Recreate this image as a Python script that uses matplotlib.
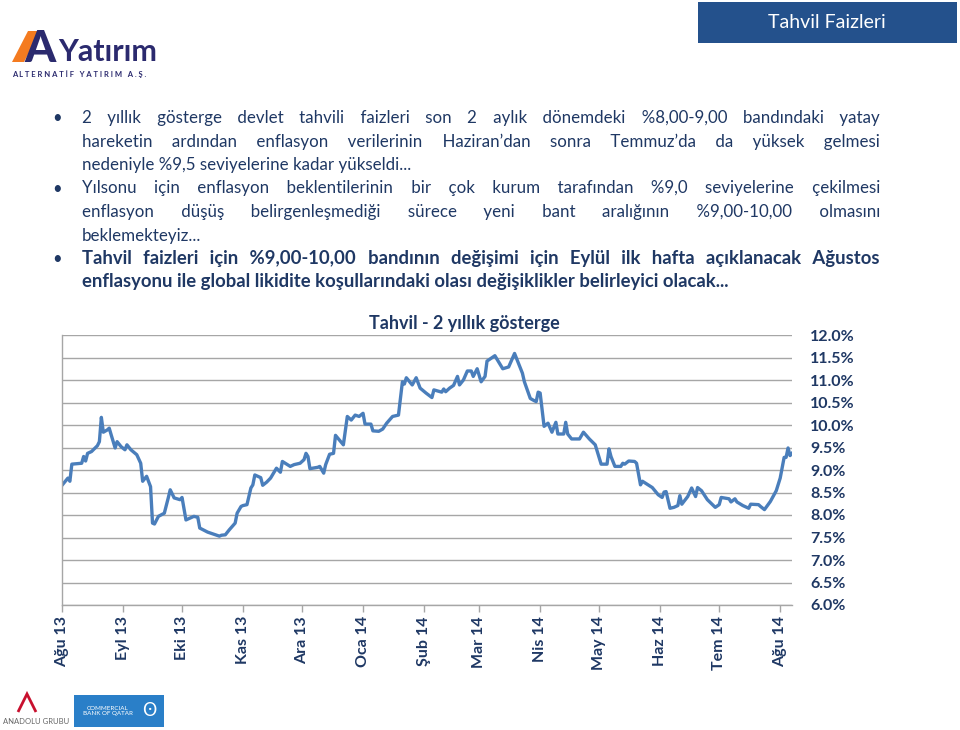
import matplotlib
matplotlib.use("Agg")
import matplotlib.pyplot as plt
import matplotlib.patches as mpatches
import pandas as pd

# 2-year benchmark bond yield (%)
dates = [
    "2013-08-01", "2013-08-04", "2013-08-05", "2013-08-06", "2013-08-11", "2013-08-12",
    "2013-08-13", "2013-08-14", "2013-08-16", "2013-08-19", "2013-08-20", "2013-08-21",
    "2013-08-22", "2013-08-24", "2013-08-25", "2013-08-26", "2013-08-28", "2013-08-29",
    "2013-08-31", "2013-09-02", "2013-09-03", "2013-09-05", "2013-09-08", "2013-09-10",
    "2013-09-11", "2013-09-13", "2013-09-15", "2013-09-16", "2013-09-17", "2013-09-19",
    "2013-09-22", "2013-09-24", "2013-09-25", "2013-09-27", "2013-09-30", "2013-10-01",
    "2013-10-03", "2013-10-07", "2013-10-09", "2013-10-10", "2013-10-14", "2013-10-20",
    "2013-10-21", "2013-10-23", "2013-10-25", "2013-10-28", "2013-10-29", "2013-10-31",
    "2013-11-01", "2013-11-03", "2013-11-05", "2013-11-06", "2013-11-07", "2013-11-10",
    "2013-11-11", "2013-11-13", "2013-11-15", "2013-11-18", "2013-11-20", "2013-11-21",
    "2013-11-25", "2013-11-27", "2013-11-30", "2013-12-02", "2013-12-03", "2013-12-04",
    "2013-12-05", "2013-12-09", "2013-12-10", "2013-12-12", "2013-12-13", "2013-12-15",
    "2013-12-17", "2013-12-18", "2013-12-22", "2013-12-24", "2013-12-26", "2013-12-28",
    "2013-12-30", "2014-01-01", "2014-01-02", "2014-01-05", "2014-01-06", "2014-01-09",
    "2014-01-11", "2014-01-13", "2014-01-16", "2014-01-19", "2014-01-21", "2014-01-22",
    "2014-01-23", "2014-01-26", "2014-01-28", "2014-01-30", "2014-02-02", "2014-02-05",
    "2014-02-06", "2014-02-10", "2014-02-11", "2014-02-12", "2014-02-14", "2014-02-16",
    "2014-02-18", "2014-02-19", "2014-02-21", "2014-02-23", "2014-02-25", "2014-02-26",
    "2014-02-28", "2014-03-02", "2014-03-04", "2014-03-05", "2014-03-09", "2014-03-13",
    "2014-03-16", "2014-03-19", "2014-03-23", "2014-03-24", "2014-03-27", "2014-03-29",
    "2014-03-30", "2014-03-31", "2014-04-01", "2014-04-03", "2014-04-05", "2014-04-07",
    "2014-04-09", "2014-04-10", "2014-04-13", "2014-04-14", "2014-04-15", "2014-04-17",
    "2014-04-21", "2014-04-23", "2014-04-26", "2014-04-29", "2014-05-02", "2014-05-05",
    "2014-05-06", "2014-05-07", "2014-05-09", "2014-05-12", "2014-05-13", "2014-05-14",
    "2014-05-16", "2014-05-19", "2014-05-20", "2014-05-22", "2014-05-23", "2014-05-28",
    "2014-05-31", "2014-06-02", "2014-06-03", "2014-06-04", "2014-06-06", "2014-06-08",
    "2014-06-10", "2014-06-11", "2014-06-12", "2014-06-15", "2014-06-17", "2014-06-19",
    "2014-06-20", "2014-06-22", "2014-06-25", "2014-06-29", "2014-07-01", "2014-07-02",
    "2014-07-06", "2014-07-07", "2014-07-09", "2014-07-10", "2014-07-13", "2014-07-16",
    "2014-07-17", "2014-07-21", "2014-07-22", "2014-07-24", "2014-07-27", "2014-07-30",
    "2014-08-01", "2014-08-03", "2014-08-04", "2014-08-05", "2014-08-06", "2014-08-07",
]
yields = [
    8.66, 8.82, 8.75, 9.13, 9.15, 9.30,
    9.20, 9.37, 9.41, 9.54, 9.63, 10.17,
    9.84, 9.89, 9.93, 9.78, 9.49, 9.63,
    9.52, 9.45, 9.56, 9.45, 9.34, 9.15,
    8.75, 8.86, 8.63, 7.82, 7.80, 7.97,
    8.04, 8.38, 8.56, 8.38, 8.34, 8.39,
    7.89, 7.97, 7.95, 7.71, 7.62, 7.53,
    7.55, 7.56, 7.67, 7.82, 8.04, 8.19,
    8.21, 8.23, 8.60, 8.67, 8.89, 8.83,
    8.66, 8.73, 8.82, 9.04, 8.95, 9.19,
    9.08, 9.12, 9.15, 9.23, 9.37, 9.30,
    9.03, 9.06, 9.08, 8.93, 9.12, 9.35,
    9.37, 9.77, 9.56, 10.19, 10.11, 10.22,
    10.19, 10.26, 10.02, 10.02, 9.87, 9.86,
    9.91, 10.04, 10.19, 10.22, 10.96, 10.91,
    11.05, 10.89, 11.05, 10.82, 10.71, 10.61,
    10.78, 10.73, 10.80, 10.74, 10.82, 10.88,
    11.08, 10.89, 11.00, 11.20, 11.20, 11.08,
    11.25, 10.96, 11.08, 11.42, 11.54, 11.25,
    11.29, 11.59, 11.15, 10.96, 10.59, 10.54,
    10.52, 10.73, 10.71, 9.97, 10.04, 9.84,
    10.06, 9.80, 9.80, 10.06, 9.80, 9.69,
    9.69, 9.84, 9.69, 9.56, 9.13, 9.13,
    9.47, 9.30, 9.08, 9.08, 9.15, 9.13,
    9.20, 9.19, 9.15, 8.67, 8.75, 8.61,
    8.45, 8.39, 8.51, 8.52, 8.15, 8.17,
    8.21, 8.43, 8.24, 8.41, 8.60, 8.41,
    8.61, 8.54, 8.34, 8.17, 8.23, 8.39,
    8.36, 8.29, 8.36, 8.29, 8.21, 8.15,
    8.24, 8.23, 8.19, 8.12, 8.30, 8.54,
    8.82, 9.28, 9.28, 9.49, 9.32, 9.37,
]

month_ticks = ["2013-08-01", "2013-09-01", "2013-10-01", "2013-11-01", "2013-12-01",
               "2014-01-01", "2014-02-01", "2014-03-01", "2014-04-01", "2014-05-01",
               "2014-06-01", "2014-07-01", "2014-08-01"]
month_labels = ["Ağu 13", "Eyl 13", "Eki 13", "Kas 13", "Ara 13", "Oca 14", "Şub 14",
                "Mar 14", "Nis 14", "May 14", "Haz 14", "Tem 14", "Ağu 14"]
y_ticks = [6.0, 6.5, 7.0, 7.5, 8.0, 8.5, 9.0, 9.5, 10.0, 10.5, 11.0, 11.5, 12.0]

bullets = [
    ["2 yıllık gösterge devlet tahvili faizleri son 2 aylık dönemdeki %8,00-9,00 bandındaki yatay",
     "hareketin ardından enflasyon verilerinin Haziran’dan sonra Temmuz’da da yüksek gelmesi",
     "nedeniyle %9,5 seviyelerine kadar yükseldi..."],
    ["Yılsonu için enflasyon beklentilerinin bir çok kurum tarafından %9,0 seviyelerine çekilmesi",
     "enflasyon düşüş belirgenleşmediği sürece yeni bant aralığının %9,00-10,00 olmasını",
     "beklemekteyiz..."],
    ["Tahvil faizleri için %9,00-10,00 bandının değişimi için Eylül ilk hafta açıklanacak Ağustos",
     "enflasyonu ile global likidite koşullarındaki olası değişiklikler belirleyici olacak..."],
]
bullet_bold = [False, False, True]

NAVY = "#1F3864"
LINE = "#4A7EBB"
GRID = "#A6A6A6"
W, H = 960, 730
FONT = ["Lato", "DejaVu Sans"]
HAIR = "\u200a"

plt.rcParams["font.family"] = FONT
fig = plt.figure(figsize=(W / 100, H / 100), dpi=100, facecolor="white")
renderer = fig.canvas.get_renderer()


def px(x, y):
    return x / W, 1 - y / H


def text_width(s, **kw):
    t = fig.text(0, 0, s, **kw)
    w = t.get_window_extent(renderer).width
    t.remove()
    return w


def draw_line(s, x0, x1, y, justify, **kw):
    # one text per line; justification is done by padding the word gaps
    # with normal and hair spaces, so all words share one baseline
    words = s.split(" ")
    line = s
    if justify and len(words) > 1:
        base = text_width("xx", **kw)
        w_sp = text_width("x x", **kw) - base
        w_hair = max(text_width("x" + HAIR + "x", **kw) - base, 0.5)
        gap = (x1 - x0 - text_width(s, **kw)) / (len(words) - 1) + w_sp
        parts = [words[0]]
        carry = 0.0
        for word in words[1:]:
            want = gap + carry
            n_hair = max(0, round((want - w_sp) / w_hair))
            carry = want - w_sp - n_hair * w_hair
            parts.append(" " + HAIR * n_hair + word)
        line = "".join(parts)
    fig.text(*px(x0, y), line, va="baseline", ha="left", **kw)


# header box
fig.patches.append(mpatches.Rectangle(px(698, 43), 259 / W, 41 / H, transform=fig.transFigure,
                                      facecolor="#24518C", edgecolor="none"))
fig.text(*px(827, 22), "Tahvil Faizleri", color="white", fontsize=14, ha="center", va="center")

# logo
fig.patches.append(mpatches.Polygon([px(12, 62), px(24, 62), px(40, 31), px(28, 31)], closed=True,
                                    transform=fig.transFigure, facecolor="#F47B20", edgecolor="none"))
fig.text(*px(24, 62), "A", color="#2B2A6E", fontsize=32, fontweight="black", ha="left",
         va="baseline")
fig.text(*px(58, 61), "Yatırım", color="#2B2A6E", fontsize=22, fontweight="bold", ha="left",
         va="baseline")
fig.text(*px(12, 74), "A L T E R N A T İ F   Y A T I R I M   A . Ş .", color="#2B2A6E", fontsize=5.5,
         fontweight="bold", ha="left", va="center")

# bullet text
line_y = 118
for para, bold in zip(bullets, bullet_bold):
    text_kw = dict(fontsize=13.3 if bold else 12.2, color=NAVY,
                   fontweight="bold" if bold else "normal")
    fig.text(*px(57, line_y), "•", fontsize=12, color=NAVY, ha="center", va="center")
    for i, s in enumerate(para):
        draw_line(s, 82, 880, line_y + 5, i < len(para) - 1, **text_kw)
        line_y += 23.5

# chart
ax = fig.add_axes([62 / W, 1 - 605 / H, (792 - 62) / W, (605 - 335) / H])
x = pd.to_datetime(dates)
ax.plot(x, yields, color=LINE, linewidth=2.4, solid_joinstyle="round")
ax.set_ylim(6.0, 12.0)
ax.set_xlim(pd.Timestamp("2013-08-01"), pd.Timestamp("2014-08-07"))
ax.set_yticks(y_ticks)
ax.set_yticklabels([f"{v:.1f}%" for v in y_ticks])
ax.yaxis.tick_right()
ax.tick_params(axis="y", length=0, pad=13, labelsize=11.5, labelcolor=NAVY)
for lab in ax.get_yticklabels():
    lab.set_fontweight("bold")
ax.set_xticks(pd.to_datetime(month_ticks))
ax.set_xticklabels(month_labels, rotation=90, fontsize=11.5, color=NAVY, fontweight="bold")
ax.tick_params(axis="x", length=5, width=1, color=GRID, pad=3)
ax.grid(axis="y", color=GRID, linewidth=1)
ax.set_axisbelow(True)
for side in ["top", "right"]:
    ax.spines[side].set_visible(False)
for side in ["left", "bottom"]:
    ax.spines[side].set_color(GRID)
    ax.spines[side].set_linewidth(1)

fig.text(*px(464, 324), "Tahvil - 2 yıllık gösterge", fontsize=13, fontweight="bold", color=NAVY,
         ha="center", va="center")

# footer logos
fig.patches.append(mpatches.Polygon([px(18, 712), px(27, 694), px(36, 712)], closed=False, fill=False,
                                    transform=fig.transFigure, edgecolor="#C8102E", linewidth=2))
fig.text(*px(3, 722), "ANADOLU GRUBU", fontsize=5.5, color="#666666", ha="left", va="center")
fig.patches.append(mpatches.Rectangle(px(74, 727), 90 / W, 32 / H, transform=fig.transFigure,
                                      facecolor="#2A7FC8", edgecolor="none"))
fig.text(*px(108, 711), "COMMERCIAL\nBANK OF QATAR", fontsize=4.5, color="white", ha="center",
         va="center", linespacing=1.1)
fig.text(*px(149, 711), "ʘ", fontsize=14, color="white", ha="center", va="center")

fig.savefig("out.png", dpi=100, facecolor="white")
